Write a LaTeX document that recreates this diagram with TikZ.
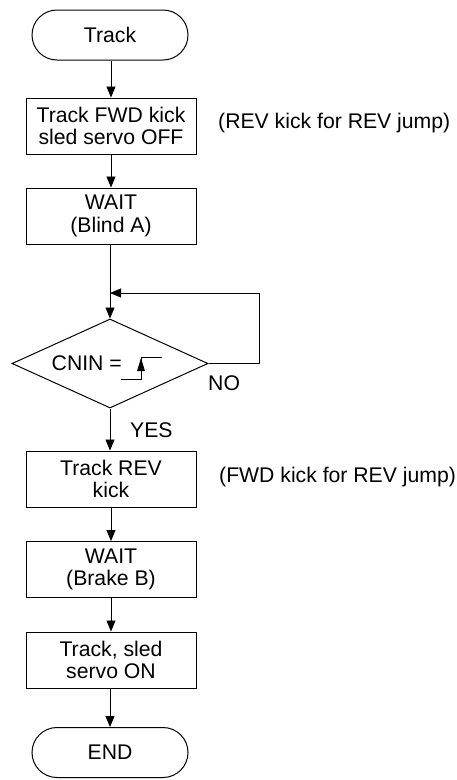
\documentclass[tikz,border=0pt]{standalone}
\usepackage{fontspec}
\setmainfont{Liberation Sans}
\usetikzlibrary{shapes.geometric,arrows.meta}
\begin{document}
\begin{tikzpicture}[x=1pt,y=-1pt,
  every node/.style={font=\fontsize{21.2}{22.5}\selectfont},
  procbox/.style={draw,line width=1pt,minimum width=170pt,minimum height=56pt,inner sep=0pt,align=center},
  termbox/.style={draw,line width=1pt,rounded corners=25pt,minimum width=156pt,minimum height=50pt,inner sep=0pt},
  flow/.style={line width=0.9pt,-{Triangle[length=11pt,width=9pt]}},
  lbl/.style={anchor=west,inner sep=0pt}]
\useasboundingbox (0,0) rectangle (456,780);
\node[termbox] (start) at (110,35) {Track};
\node[procbox] (b1) at (111,126) {Track FWD kick\\sled servo OFF};
\node[lbl] (n1) at (218,123) {(REV kick for REV jump)};
\node[procbox] (b2) at (111,216) {WAIT\\(Blind A)};
\node[diamond,draw,line width=1pt,minimum width=196pt,minimum height=89pt,inner sep=0pt] (d) at (110,363.5) {};
\node[anchor=east,inner sep=0pt] (cnin) at (122,363) {CNIN =};
\coordinate (s1) at (121,379);
\coordinate (s2) at (141,379);
\coordinate (s3) at (141,357);
\coordinate (s4) at (162,357);
\draw[line width=0.9pt] (s1) -- (s2) -- (s3) -- (s4);
\fill (137,371) -- (145,371) -- (141,358) -- cycle;
\node[lbl] (no) at (208,383) {NO};
\node[lbl] (yes) at (130,430) {YES};
\node[procbox] (b3) at (111,479) {Track REV\\kick};
\node[lbl] (n2) at (219,477) {(FWD kick for REV jump)};
\node[procbox] (b4) at (111,569.5) {WAIT\\(Brake B)};
\node[procbox] (b5) at (111,660) {Track, sled\\servo ON};
\node[termbox] (end) at (110,752.5) {END};
\coordinate (m) at (110,293);
\coordinate (r1) at (259,363.5);
\coordinate (r2) at (259,293);
\draw[flow] (start.south -| b1) -- (b1);
\draw[flow] (b1) -- (b2);
\draw[line width=0.9pt] (b2.south -| m) -- (m);
\draw[flow] (m) -- (d.north);
\draw[line width=0.9pt] (d.east) -- (r1) -- (r2);
\draw[flow] (r2) -- (m);
\draw[flow] (d.south) -- (b3.north -| d.south);
\draw[flow] (b3) -- (b4);
\draw[flow] (b4) -- (b5);
\draw[flow] (b5.south -| end) -- (end);
\end{tikzpicture}
\end{document}
